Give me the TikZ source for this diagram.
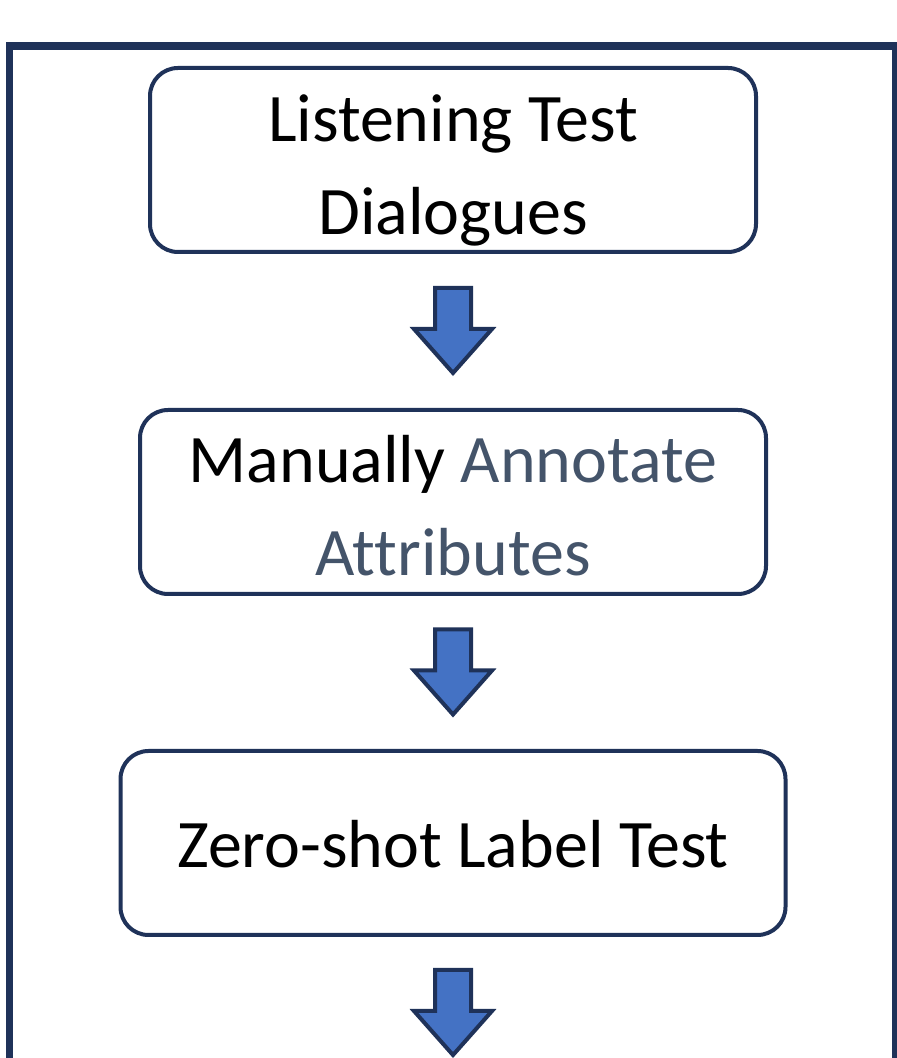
\documentclass[tikz,border=0pt]{standalone}
\usepackage{fontspec}
\setmainfont{Carlito}[Ligatures=NoCommon]
\usepackage{xcolor}
\usetikzlibrary{calc, positioning}

\definecolor{navy}{HTML}{1F3259}
\definecolor{arrowblue}{HTML}{4472C4}
\definecolor{slate}{HTML}{44546A}

% invisible strut that pushes the first line down inside its box
\newcommand{\lift}[1]{\rule{0pt}{#1}}

\begin{document}
\begin{tikzpicture}[x=1pt, y=1pt, node distance=154pt]
 % We define the styles for the blocks, the frame and the block arrows
 \tikzset{
stepbox/.style = {draw=navy, rectangle, rounded corners=28pt, line width=4pt, minimum height=184pt, align=center, inner sep=0pt, font=\fontsize{68}{93}\selectfont},
frame/.style = {draw=navy, line width=7.5pt},
bigarrow/.style = {draw=navy, fill=arrowblue, line width=4pt, line join=miter},
downarrow/.pic = {\draw[bigarrow] (-18,43) -- (18,43) -- (18,2) -- (39,2) -- (0,-42) -- (-39,2) -- (-18,2) -- cycle;},
}

 \useasboundingbox (0,0) rectangle (897,1058);
 \fill[white] (0,0) rectangle (897,1058);
 \clip (0,0) rectangle (897,1058);

 % Outer frame, its lower edge runs off the page
 \draw[frame] (9.5,1012) rectangle (896,-30);

 % Dialogues block
 \node [stepbox, minimum width=606pt] (dialogues) at (453,898) {\lift{67pt}Listening Test\\Dialogues};

 % Annotation block
 \node [stepbox, minimum width=626pt, below=of dialogues] (annotate) {\lift{54pt}Manually \textcolor{slate}{Annotate}\\\textcolor{slate}{Attributes}};

 % Zero-shot block
 \node [stepbox, minimum width=665pt, below=153pt of annotate] (zeroshot) {\lift{50pt}Zero-shot Label Test};

 % Block arrows between the steps
 \coordinate (gap1) at ($(dialogues.south)!0.5!(annotate.north)$);
 \coordinate (gap2) at ($(annotate.south)!0.5!(zeroshot.north)$);
 \coordinate (gap3) at ([yshift=-76pt]zeroshot.south);
 \pic at (gap1) {downarrow};
 \pic at (gap2) {downarrow};
 \pic at (gap3) {downarrow};

\end{tikzpicture}
\end{document}
